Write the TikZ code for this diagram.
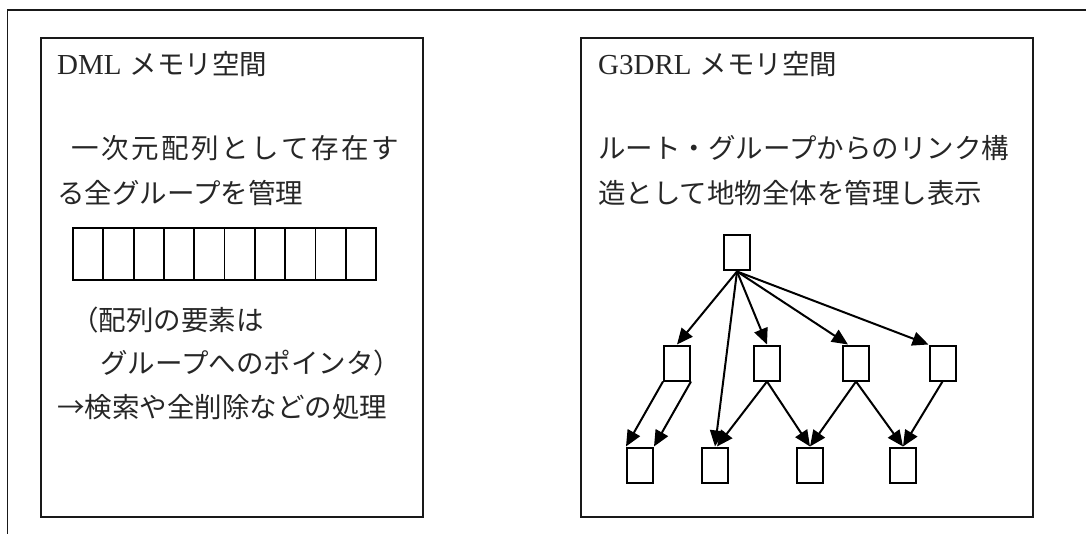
\documentclass[tikz,border=0pt]{standalone}
\usepackage{fontspec}
\newfontfamily\cjk{Noto Sans CJK JP}
\newfontfamily\lat{Liberation Serif}
\usetikzlibrary{arrows.meta}
\begin{document}
\begin{tikzpicture}[x=1pt,y=-1pt,
  frame/.style={line width=1.8pt,draw=black!90},
  panel/.style={frame,minimum width=382pt,minimum height=479pt,inner sep=0pt,anchor=north west},
  txt/.style={anchor=west,inner sep=0pt,text=black!85,font=\fontsize{27.5}{33}\selectfont},
  gnode/.style={draw=black,line width=2pt,minimum width=26pt,minimum height=35pt,inner sep=0pt},
  cell/.style={draw=black,line width=1.8pt,minimum width=30.3pt,minimum height=52pt,inner sep=0pt},
  link/.style={line width=2pt,draw=black,-{Triangle[length=16pt,width=14pt]}}]
\clip (0,0) rectangle (1086,534);
\draw[frame] (7.5,545) -- (7.5,10) -- (1095,10);
% panels
\node[panel] (dml) at (40,37) {};
\node[panel,minimum width=452pt] (g3d) at (580,37) {};
% left texts
\node[txt] (t1) at (57,64) {{\lat\fontsize{29}{33}\selectfont DML} {\cjk メモリ空間}};
\node[txt] (t2) at (71,148) {\cjk 一\kern2.5pt 次\kern2.5pt 元\kern2.5pt 配\kern2.5pt 列\kern2.5pt と\kern2.5pt し\kern2.5pt て\kern2.5pt 存\kern2.5pt 在\kern2.5pt す};
\node[txt] (t3) at (57,193) {\cjk る全グループを管理};
\foreach \i in {0,...,9}
  \node[cell] (c\i) at ({88.15+\i*30.3},254) {};
\node[txt] (t4) at (71,320) {\cjk （配列の要素は};
\node[txt] (t5) at (100,363) {\cjk グループへのポインタ）};
\node[txt] (t6) at (57,407) {\cjk →検索や全削除などの処理};
% right texts
\node[txt] (r1) at (598,64) {{\lat\fontsize{29}{33}\selectfont G3DRL} {\cjk メモリ空間}};
\node[txt] (r2) at (598,148) {\cjk ルート・グループからのリンク構};
\node[txt] (r3) at (598,193) {\cjk 造として地物全体を管理し表示};
% graph
\node[gnode] (root) at (737,253) {};
\node[gnode] (a) at (677,363) {};
\node[gnode] (b) at (767,363) {};
\node[gnode] (c) at (856,363) {};
\node[gnode] (d) at (942.5,363) {};
\node[gnode] (e) at (640,465) {};
\node[gnode] (f) at (715,465) {};
\node[gnode] (g) at (810,465) {};
\node[gnode] (h) at (903,465) {};
\draw[link] (root.south) -- (a.north);
\draw[link] (root.south) -- (f.north);
\draw[link] (root.south) -- (b.north);
\draw[link] (root.south) -- ([xshift=-8pt]c.north);
\draw[link] (root.south) -- (d.north west);
\draw[link] (a.south west) -- (e.north west);
\draw[link] (a.south east) -- (e.north east);
\draw[link] (b.south) -- ([xshift=2pt]f.north);
\draw[link] (b.south) -- (g.north);
\draw[link] (c.south) -- (g.north);
\draw[link] (c.south) -- (h.north);
\draw[link] (d.south) -- (h.north);
\end{tikzpicture}
\end{document}
